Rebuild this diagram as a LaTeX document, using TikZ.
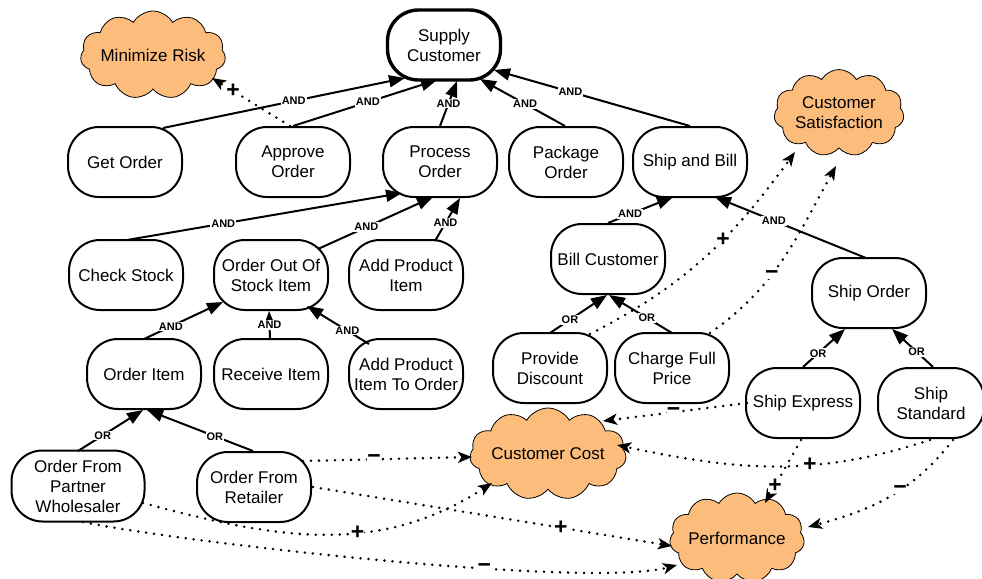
\documentclass[tikz,border=0pt]{standalone}
\usepackage{fontspec}
\setmainfont{Liberation Sans}
\usetikzlibrary{shapes.symbols,arrows.meta,calc}
\definecolor{softgoal}{RGB}{252,189,124}
\begin{document}
\begin{tikzpicture}[x=1pt,y=-1pt,
  goal/.style={draw, line width=2pt, rounded corners=31pt, minimum width=114pt,
    minimum height=70pt, align=center, inner sep=2pt,
    font=\fontsize{17}{20}\selectfont},
  topgoal/.style={goal, line width=3.4pt},
  soft/.style={cloud, cloud puffs=11, cloud puff arc=120, cloud ignores aspect,
    draw, line width=0.8pt, fill=softgoal, align=center, inner sep=0pt,
    font=\fontsize{17}{20}\selectfont},
  dec/.style={line width=2pt, -{Triangle[length=16pt,width=12pt]}},
  contrib/.style={line width=2.8pt, dash pattern=on 0pt off 8pt, line cap=round,
    -{Stealth[length=14pt,width=11pt,inset=3.5pt]}},
  lbl/.style={font=\fontsize{11}{12}\selectfont\bfseries, fill=white, inner sep=1pt},
  sign/.style={font=\fontsize{23}{24}\selectfont\bfseries, fill=white, inner sep=0pt}
]
\useasboundingbox[fill=white] (0,0) rectangle (982,578);

% hard goals and tasks
\node[topgoal, minimum width=113pt] (sup) at (444,45) {Supply\\Customer};
\node[goal] (go)  at (125,162) {Get Order};
\node[goal] (ap)  at (293,162) {Approve\\Order};
\node[goal] (po)  at (440,162) {Process\\Order};
\node[goal] (pk)  at (566,162) {Package\\Order};
\node[goal] (sb)  at (690,162) {Ship and Bill};
\node[goal] (cs)  at (126,275) {Check Stock};
\node[goal] (oos) at (271,275) {Order Out Of\\Stock Item};
\node[goal] (api) at (406,275) {Add Product\\Item};
\node[goal] (bc)  at (608,259) {Bill Customer};
\node[goal] (so)  at (869,293) {Ship Order};
\node[goal] (oi)  at (144,374) {Order Item};
\node[goal] (ri)  at (271,374) {Receive Item};
\node[goal] (ato) at (406,374) {Add Product\\Item To Order};
\node[goal] (pd)  at (550,368) {Provide\\Discount};
\node[goal] (cf)  at (672,368) {Charge Full\\Price};
\node[goal] (se)  at (803,403) {Ship Express};
\node[goal, minimum width=106pt] (ss) at (931,403) {Ship\\Standard};
\node[goal, minimum width=133pt, minimum height=71pt] (pw) at (78,486) {Order From\\Partner\\Wholesaler};
\node[goal] (re)  at (254,487) {Order From\\Retailer};

% soft goals
\node[soft, minimum width=120pt, minimum height=88pt] (mr) at (153,55) {Minimize Risk};
\node[soft, minimum width=130pt, minimum height=87pt] (csat) at (839,113) {Customer\\Satisfaction};
\node[soft, minimum width=125pt, minimum height=92pt] (cc) at (548,454) {Customer Cost};
\node[soft, minimum width=123pt, minimum height=90pt] (pf) at (737,538) {Performance};

% AND / OR decompositions
\draw[dec] ($(go)+(38,-34)$) -- node[lbl,pos=0.54] {AND} ($(sup)+(-39,33)$);
\draw[dec] ($(ap)+(0,-36)$) -- node[lbl,pos=0.52] {AND} ($(sup)+(-7,35)$);
\draw[dec] ($(po)+(0,-36)$) -- node[lbl,pos=0.5] {AND} ($(sup)+(13,36)$);
\draw[dec] ($(pk)+(-1,-36)$) -- node[lbl,pos=0.47] {AND} ($(sup)+(36,34)$);
\draw[dec] ($(sb)+(0,-36)$) -- node[lbl,pos=0.61] {AND} ($(sup)+(50,25)$);
\draw[dec] ($(cs)+(1,-35)$) -- node[lbl,pos=0.35] {AND} ($(po)+(-38,31)$);
\draw[dec] ($(oos)+(47,-26)$) -- node[lbl,pos=0.42] {AND} ($(po)+(-7,35)$);
\draw[dec] ($(api)+(29,-34)$) -- node[lbl,pos=0.42] {AND} ($(po)+(20,36)$);
\draw[dec] ($(bc)+(0,-36)$) -- node[lbl,pos=0.34] {AND} ($(sb)+(-17,35)$);
\draw[dec] ($(so)+(-3,-35)$) -- node[lbl,pos=0.61] {AND} ($(sb)+(25,35)$);
\draw[dec] ($(oi)+(0,-35)$) -- node[lbl,pos=0.34] {AND} ($(oos)+(-48,27)$);
\draw[dec] ($(ri)+(-1,-35)$) -- node[lbl,pos=0.5] {AND} ($(oos)+(-2,36)$);
\draw[dec] ($(ato)+(-37,-30)$) -- node[lbl,pos=0.35] {AND} ($(oos)+(36,31)$);
\draw[dec] ($(pd)+(0,-35)$) -- node[lbl,pos=0.35] {OR} ($(bc)+(-1,36)$);
\draw[dec] ($(cf)+(0,-35)$) -- node[lbl,pos=0.4] {OR} ($(bc)+(1,36)$);
\draw[dec] ($(se)+(0,-36)$) -- node[lbl,pos=0.36] {OR} ($(so)+(-24,36)$);
\draw[dec] ($(ss)+(2,-36)$) -- node[lbl,pos=0.4] {OR} ($(so)+(23,36)$);
\draw[dec] ($(pw)+(0,-35)$) -- node[lbl,pos=0.38] {OR} ($(oi)+(-1,36)$);
\draw[dec] ($(re)+(-1,-36)$) -- node[lbl,pos=0.36] {OR} ($(oi)+(3,36)$);

% contributions to soft goals
\draw[contrib] ($(ap)+(-3,-36)$) -- node[sign,pos=0.73] {+} ($(mr)+(59,23)$);
\draw[contrib] ($(pd)+(40,-34)$) to[out=27,in=234] node[sign,pos=0.6] {+} ($(csat)+(-44,39)$);
\draw[contrib] ($(cf)+(38,-35)$) to[out=35,in=241] node[sign,pos=0.4] {−} ($(csat)+(-3,53)$);
\draw[contrib] ($(se)+(-56,0)$) -- node[sign,pos=0.51] {−} ($(cc)+(55,-33)$);
\draw[contrib] ($(ss)+(-1,37)$) to[out=198,in=348] node[sign,pos=0.38] {+} ($(cc)+(69,-9)$);
\draw[contrib] ($(se)+(-2,37)$) -- node[sign,pos=0.72] {+} ($(pf)+(28,-35)$);
\draw[contrib] ($(ss)+(22,37)$) to[out=232,in=15] node[sign,pos=0.42] {−} ($(pf)+(71,-11)$);
\draw[contrib] ($(re)+(49,-26)$) -- node[sign,pos=0.42] {−} ($(cc)+(-76,3)$);
\draw[contrib] ($(re)+(59,0)$) -- node[sign,pos=0.69] {+} ($(pf)+(-65,8)$);
\draw[contrib] ($(pw)+(65,17)$) to[out=-15,in=213] node[sign,pos=0.6] {+} ($(cc)+(-56,29)$);
\draw[contrib] ($(pw)+(5,36)$) to[out=-12,in=195,looseness=0.4] node[sign,pos=0.64] {−} ($(pf)+(-60,27)$);
\end{tikzpicture}
\end{document}
